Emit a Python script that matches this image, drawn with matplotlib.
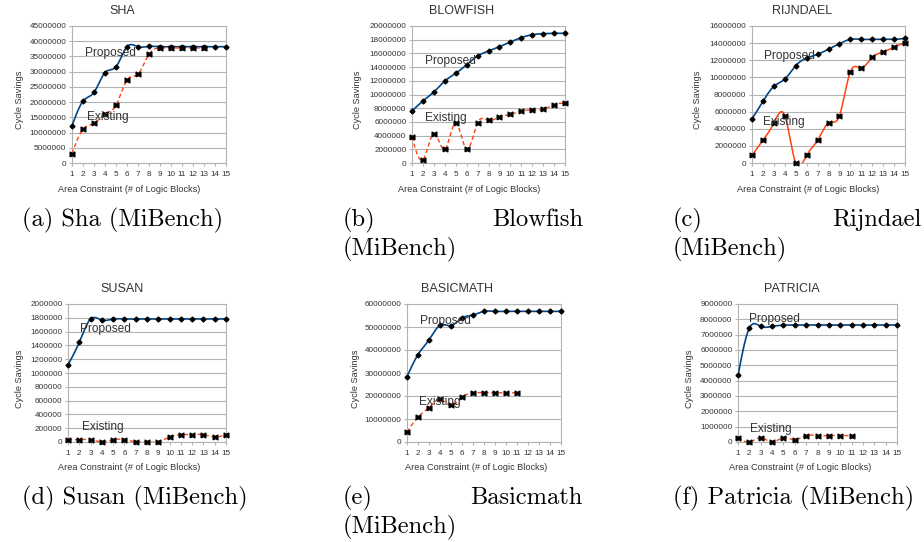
import matplotlib.pyplot as plt
import numpy as np
from matplotlib.ticker import FuncFormatter

# values (x = area constraint, 1..15)
blocks = list(range(1, 16))

sha_proposed = [12.2e6, 20.3e6, 23.2e6, 29.7e6, 31.6e6, 38.2e6, 38.2e6, 38.3e6,
                38.2e6, 38.2e6, 38.2e6, 38.2e6, 38.2e6, 38.2e6, 38.2e6]
sha_existing = [3.07e6, 11.1e6, 13.0e6, 16.1e6, 19.0e6, 27.3e6, 29.2e6, 35.7e6,
                37.8e6, 37.8e6, 37.8e6, 37.8e6, 37.8e6]

blowfish_proposed = [7.6e6, 9.05e6, 10.36e6, 11.97e6, 13.09e6, 14.35e6, 15.62e6, 16.35e6,
                     16.98e6, 17.66e6, 18.3e6, 18.73e6, 18.88e6, 18.93e6, 18.93e6]
blowfish_existing = [3.8e6, 0.49e6, 4.28e6, 2.0e6, 5.84e6, 2.0e6, 5.84e6, 6.23e6,
                     6.72e6, 7.1e6, 7.59e6, 7.74e6, 7.83e6, 8.52e6, 8.76e6]

rijndael_proposed = [5.14e6, 7.2e6, 8.95e6, 9.8e6, 11.36e6, 12.26e6, 12.68e6, 13.3e6,
                     13.93e6, 14.44e6, 14.44e6, 14.44e6, 14.44e6, 14.44e6, 14.55e6]
rijndael_existing = [0.9e6, 2.65e6, 4.67e6, 5.53e6, 0.0, 0.9e6, 2.65e6, 4.67e6,
                     5.53e6, 10.66e6, 11.09e6, 12.33e6, 12.96e6, 13.54e6, 14.05e6]

susan_proposed = [1116000, 1447000, 1782000, 1767000, 1782000, 1782000, 1782000, 1783000,
                  1783000, 1783000, 1783000, 1783000, 1783000, 1783000, 1783000]
susan_existing = [34000, 34000, 34000, 2000, 34000, 34000, 2000, 2000,
                  2000, 73000, 107000, 107000, 107000, 73000, 107000]

basicmath_proposed = [28.4e6, 38.0e6, 44.4e6, 50.7e6, 50.6e6, 53.9e6, 55.2e6, 56.8e6,
                      56.8e6, 56.8e6, 56.8e6, 56.8e6, 56.8e6, 56.8e6, 56.8e6]
basicmath_existing = [4.37e6, 10.8e6, 15.0e6, 18.5e6, 15.9e6, 19.4e6, 21.4e6, 21.4e6,
                      21.4e6, 21.4e6, 21.4e6]

patricia_proposed = [4.35e6, 7.43e6, 7.54e6, 7.54e6, 7.62e6, 7.63e6, 7.63e6, 7.63e6,
                     7.63e6, 7.63e6, 7.63e6, 7.63e6, 7.63e6, 7.63e6, 7.63e6]
patricia_existing = [0.28e6, 0.0, 0.28e6, 0.0, 0.28e6, 0.15e6, 0.42e6, 0.42e6,
                     0.42e6, 0.42e6, 0.42e6]

titles = ["SHA", "BLOWFISH", "RIJNDAEL", "SUSAN", "BASICMATH", "PATRICIA"]
y_max = [45e6, 20e6, 16e6, 2e6, 60e6, 9e6]
y_step = [5e6, 2e6, 2e6, 2e5, 10e6, 1e6]
proposed_label_at = [(2.18, 36.0e6), (2.15, 14.84e6), (2.13, 12.49e6),
                     (2.09, 1.636e6), (2.15, 52.7e6), (1.97, 8.04e6)]
existing_label_at = [(2.39, 15.0e6), (2.15, 6.62e6), (2.0, 4.79e6),
                     (2.24, 218000), (2.06, 17.2e6), (2.03, 0.85e6)]

W, H = 924, 542
BLUE = "#004586"
ORANGE = "#ff420e"
GRID = "#b3b3b3"
TXT = "#333333"
SANS = "Liberation Sans"

# square with notches top and bottom, like the spreadsheet's bow-tie symbol
bowtie = [(-1, -1), (-1, 1), (0, 0.45), (1, 1), (1, -1), (0, -0.45), (-1, -1)]


def smooth(xs, ys, steps=30):
    """natural cubic spline through the points (how the chart tool drew the lines)"""
    xs = np.asarray(xs, float)
    ys = np.asarray(ys, float)
    n = len(xs)
    h = np.diff(xs)
    A = np.zeros((n, n))
    b = np.zeros(n)
    A[0, 0] = A[-1, -1] = 1
    for i in range(1, n - 1):
        A[i, i - 1] = h[i - 1]
        A[i, i] = 2 * (h[i - 1] + h[i])
        A[i, i + 1] = h[i]
        b[i] = 6 * ((ys[i + 1] - ys[i]) / h[i] - (ys[i] - ys[i - 1]) / h[i - 1])
    m = np.linalg.solve(A, b)
    out_x, out_y = [], []
    for i in range(n - 1):
        t = np.linspace(xs[i], xs[i + 1], steps, endpoint=(i == n - 2))
        a = xs[i + 1] - t
        c = t - xs[i]
        s = ((m[i] * a ** 3 + m[i + 1] * c ** 3) / (6 * h[i])
             + (ys[i] / h[i] - m[i] * h[i] / 6) * a
             + (ys[i + 1] / h[i] - m[i + 1] * h[i] / 6) * c)
        out_x.append(t)
        out_y.append(s)
    return np.concatenate(out_x), np.concatenate(out_y)


def px_axes(fig, left, right, top, bottom):
    return fig.add_axes([left / W, 1 - bottom / H, (right - left) / W, (bottom - top) / H])


def draw_panel(ax, i, proposed, existing, existing_style):
    ax.set_xlim(1, 15)
    ax.set_ylim(0, y_max[i])
    ax.set_xticks(blocks)
    ax.set_yticks(np.arange(0, y_max[i] + y_step[i] / 2, y_step[i]))
    ax.yaxis.set_major_formatter(FuncFormatter(lambda v, p: "%d" % round(v)))
    ax.grid(axis="y", color=GRID, lw=0.8)
    ax.set_axisbelow(True)
    for s in ax.spines.values():
        s.set_color(GRID)
        s.set_linewidth(0.8)
    ax.tick_params(colors=GRID, labelcolor=TXT, labelsize=5.9, length=2.2, width=0.8)
    ax.tick_params(axis="x", pad=3.4)
    ax.tick_params(axis="y", pad=1.8)
    for lab in ax.get_xticklabels() + ax.get_yticklabels():
        lab.set_fontfamily(SANS)

    sx, sy = smooth(blocks, proposed)
    ax.plot(sx, sy, color=BLUE, lw=1.2, zorder=3)
    ex = blocks[:len(existing)]
    sx, sy = smooth(ex, existing)
    if existing_style == "--":
        ax.plot(sx, sy, color=ORANGE, lw=1.0, ls="--", dashes=(3, 2), zorder=3)
    else:
        ax.plot(sx, sy, color=ORANGE, lw=1.1, zorder=3)
    ax.plot(blocks, proposed, ls="none", marker="D", ms=2.5, color="black", zorder=4, clip_on=False)
    ax.plot(ex, existing, ls="none", marker=bowtie, ms=3.4, color="black", zorder=4, clip_on=False)

    ax.text(*proposed_label_at[i], "Proposed", fontsize=8.6, color=TXT, family=SANS, va="center", ha="left", zorder=5)
    ax.text(*existing_label_at[i], "Existing", fontsize=8.6, color=TXT, family=SANS, va="center", ha="left", zorder=5)


fig = plt.figure(figsize=(W / 100, H / 100), dpi=100)

series = [(sha_proposed, sha_existing, "--"),
          (blowfish_proposed, blowfish_existing, "--"),
          (rijndael_proposed, rijndael_existing, "-"),
          (susan_proposed, susan_existing, "--"),
          (basicmath_proposed, basicmath_existing, "--"),
          (patricia_proposed, patricia_existing, "--")]

# pixel layout of each chart: axes box, title centre, y-label x, x-label centre
boxes = [(72, 226, 26, 163), (412, 565, 26, 163), (752, 905, 26, 163),
         (68, 226, 304, 442), (407, 561, 304, 442), (738, 897, 304, 442)]
title_x = [122, 462, 802, 122, 457, 792]
ylab_x = [19, 358, 698, 19, 355, 689]
xlab_x = [129, 469, 808, 129, 476, 800]

for i, (prop, exist, style) in enumerate(series):
    ax = px_axes(fig, *boxes[i])
    draw_panel(ax, i, prop, exist, style)
    row = i // 3
    ty = 11 if row == 0 else 289
    yl = 100 if row == 0 else 379
    xl = 189 if row == 0 else 467
    fig.text(title_x[i] / W, 1 - ty / H, titles[i], fontsize=9, family=SANS, color=TXT, ha="center", va="center")
    fig.text(ylab_x[i] / W, 1 - yl / H, "Cycle Savings", fontsize=6.6, family=SANS, color=TXT,
             rotation=90, ha="center", va="center")
    fig.text(xlab_x[i] / W, 1 - xl / H, "Area Constraint (# of Logic Blocks)", fontsize=6.6,
             family=SANS, color=TXT, ha="center", va="center")

# sub-figure captions (justified LaTeX-style lines)
CAP = dict(fontsize=17.6, family="cmr10", color="black", va="center")
r1, r1b, r2, r2b = 220, 249, 498, 527
fig.text(22 / W, 1 - r1 / H, "(a) Sha (MiBench)", ha="left", **CAP)
fig.text(343 / W, 1 - r1 / H, "(b)", ha="left", **CAP)
fig.text(583 / W, 1 - r1 / H, "Blowfish", ha="right", **CAP)
fig.text(343 / W, 1 - r1b / H, "(MiBench)", ha="left", **CAP)
fig.text(673 / W, 1 - r1 / H, "(c)", ha="left", **CAP)
fig.text(921 / W, 1 - r1 / H, "Rijndael", ha="right", **CAP)
fig.text(673 / W, 1 - r1b / H, "(MiBench)", ha="left", **CAP)
fig.text(22 / W, 1 - r2 / H, "(d) Susan (MiBench)", ha="left", **CAP)
fig.text(343 / W, 1 - r2 / H, "(e)", ha="left", **CAP)
fig.text(583 / W, 1 - r2 / H, "Basicmath", ha="right", **CAP)
fig.text(343 / W, 1 - r2b / H, "(MiBench)", ha="left", **CAP)
fig.text(673 / W, 1 - r2 / H, "(f) Patricia (MiBench)", ha="left", **CAP)

fig.savefig("out.png", dpi=100)
